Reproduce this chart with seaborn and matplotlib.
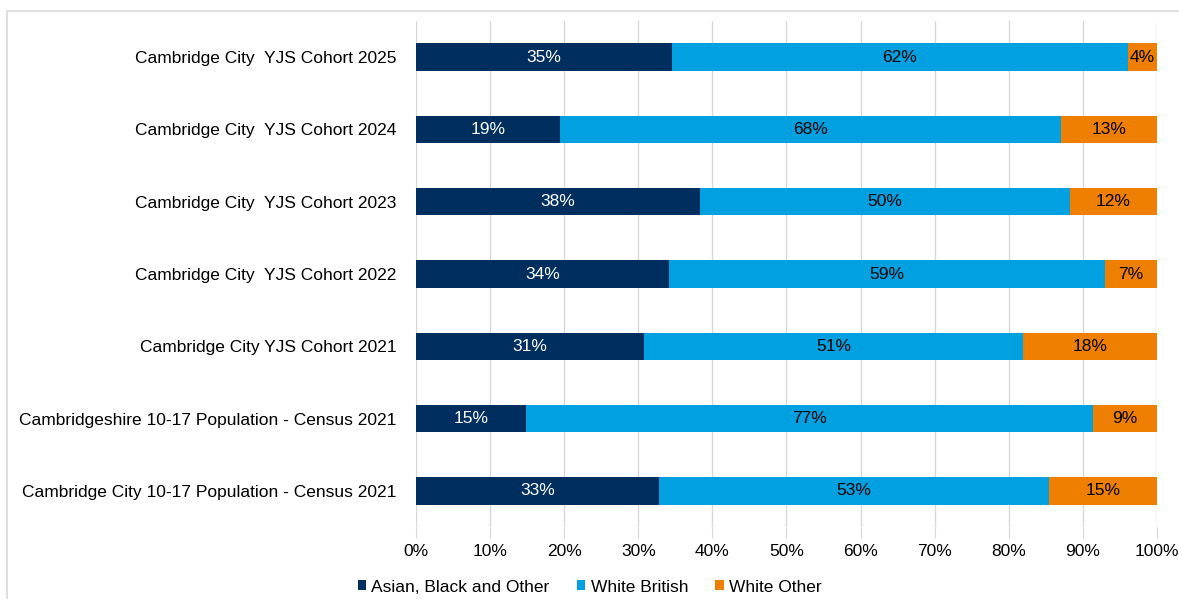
import pandas as pd
import matplotlib.pyplot as plt
import seaborn as sns
from matplotlib.patches import Rectangle

# Дані (частки, %)
groups = [
    "Cambridge City  YJS Cohort 2025",
    "Cambridge City  YJS Cohort 2024",
    "Cambridge City  YJS Cohort 2023",
    "Cambridge City  YJS Cohort 2022",
    "Cambridge City YJS Cohort 2021",
    "Cambridgeshire 10-17 Population - Census 2021",
    "Cambridge City 10-17 Population - Census 2021",
]
asian_black_other = [34.5, 19.4, 38.3, 34.1, 30.8, 14.8, 32.8]
white_british = [61.6, 67.6, 49.9, 58.9, 51.1, 76.6, 52.6]
white_other = [3.9, 13.0, 11.8, 7.0, 18.1, 8.6, 14.6]
labels_abo = ["35%", "19%", "38%", "34%", "31%", "15%", "33%"]
labels_wb = ["62%", "68%", "50%", "59%", "51%", "77%", "53%"]
labels_wo = ["4%", "13%", "12%", "7%", "18%", "9%", "15%"]

series = ["Asian, Black and Other", "White British", "White Other"]
colors = ["#002F5F", "#00A0E1", "#EE7F00"]

df = pd.DataFrame({
    "group": groups,
    "abo": asian_black_other,
    "wb": white_british,
    "wo": white_other,
})
df["c1"] = df["abo"]
df["c2"] = df["abo"] + df["wb"]
df["c3"] = df["c2"] + df["wo"]

plt.rcParams["font.family"] = ["Liberation Sans", "DejaVu Sans"]
fs = 12.5

fig = plt.figure(figsize=(11.79, 5.99), dpi=100)
ax = fig.add_axes([0.3528, 0.120, 0.6285, 0.845])

# накладені стовпчики: спочатку сума, потім менші частини
for col, color, name in zip(["c3", "c2", "c1"], colors[::-1], series[::-1]):
    sns.barplot(data=df, x=col, y="group", color=color, width=0.38,
                orient="h", ax=ax, label=name, saturation=1, zorder=3)

# підписи всередині сегментів
for i in range(len(groups)):
    left = 0
    for vals, labs, tc in [(asian_black_other, labels_abo, "white"),
                           (white_british, labels_wb, "black"),
                           (white_other, labels_wo, "black")]:
        ax.text(left + vals[i] / 2, i, labs[i], ha="center", va="center",
                color=tc, fontsize=fs, zorder=5)
        left += vals[i]

ax.set_xlim(0, 100)
ax.set_ylim(len(groups) - 0.5, -0.5)
ax.set_xticks(range(0, 101, 10))
ax.set_xticklabels([f"{t}%" for t in range(0, 101, 10)])
ax.xaxis.grid(True, color="#D9D9D9", linewidth=1, zorder=0)
ax.set_axisbelow(True)
ax.tick_params(axis="x", length=8, color="#D9D9D9", labelsize=fs, pad=4)
ax.tick_params(axis="y", length=0, labelsize=fs, pad=14)
ax.set_xlabel("")
ax.set_ylabel("")
for s in ax.spines.values():
    s.set_visible(False)

handles, lbls = ax.get_legend_handles_labels()
order = [lbls.index(n) for n in series]
fig.legend([handles[k] for k in order], series, loc="center",
           bbox_to_anchor=(0.5, 0.02), ncol=3, frameon=False,
           fontsize=fs, handlelength=0.5, handleheight=0.5,
           handletextpad=0.3, columnspacing=1.55)
if ax.get_legend():
    ax.get_legend().remove()

# рамка області діаграми
fig.patches.append(Rectangle((7 / 1179, -0.1), 1.2, 1 - 11 / 599 + 0.1,
                             transform=fig.transFigure, fill=False,
                             edgecolor="#D9D9D9", linewidth=1.2))

fig.savefig("out.png", dpi=100)
